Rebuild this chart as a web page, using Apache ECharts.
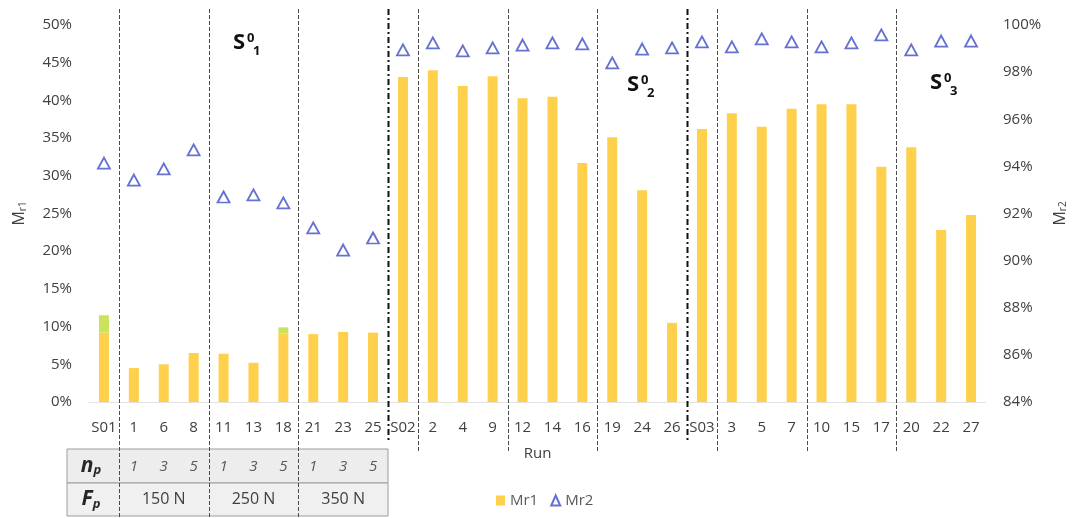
<!DOCTYPE html>
<html>
<head>
<meta charset="utf-8">
<script src="https://cdn.jsdelivr.net/npm/echarts@6/dist/echarts.min.js"></script>
<style>
html,body{margin:0;padding:0;background:#fff;}
#c{width:1074px;height:518px;}
</style>
</head>
<body>
<div id="c"></div>
<script>
// ---- data ----
const categories = ['S01','1','6','8','11','13','18','21','23','25',
                    'S02','2','4','9','12','14','16','19','24','26',
                    'S03','3','5','7','10','15','17','20','22','27'];
// Mr1 (%) yellow part of the bars
const mr1 = [9.2,4.5,5.0,6.5,6.4,5.2,9.1,9.0,9.3,9.2,
             43.1,44.0,41.9,43.2,40.3,40.5,31.7,35.1,28.1,10.5,
             36.2,38.3,36.5,38.9,39.5,39.5,31.2,33.8,22.8,24.8];
// light green tips visible on top of two bars (%)
const mr1Tip = [2.3,null,null,null,null,null,0.8,null,null,null,
                null,null,null,null,null,null,null,null,null,null,
                null,null,null,null,null,null,null,null,null,null];
// Mr2 (%)
const mr2 = [94.14,93.42,93.89,94.70,92.70,92.79,92.45,91.39,90.45,90.96,
             98.94,99.24,98.90,99.03,99.15,99.24,99.20,98.39,98.98,99.03,
             99.28,99.07,99.41,99.28,99.07,99.24,99.58,98.94,99.32,99.32];
const npRow = ['1','3','5','1','3','5','1','3','5'];   // under categories 1..9
const fpRow = ['150 N','250 N','350 N'];               // under categories 2,5,8
const groupLabels = [['S','0','1'],['S','0','2'],['S','0','3']];

const FONT = '"Open Sans", "Noto Sans", sans-serif';
const chart = echarts.init(document.getElementById('c'));

const option = {
  animation: false,
  textStyle: {fontFamily: FONT},
  grid: {left: 89, right: 88, top: 25, bottom: 116, containLabel: false, outerBoundsMode: 'none'},
  legend: {
    data: [{name: 'Mr1', icon: 'rect'}, {name: 'Mr2', icon: 'triangle'}],
    left: 491, top: 488,
    itemWidth: 9, itemHeight: 10, itemGap: 12,
    textStyle: {fontSize: 15, color: '#595959', fontFamily: FONT}
  },
  xAxis: {
    type: 'category',
    data: categories,
    name: 'Run',
    nameLocation: 'middle',
    nameGap: 44,
    nameTextStyle: {fontSize: 15, color: '#404040', fontFamily: FONT},
    axisLine: {show: true, lineStyle: {color: '#e3e3e3'}},
    axisTick: {show: false},
    axisLabel: {fontSize: 15, color: '#404040', margin: 18, interval: 0, fontFamily: FONT},
    splitLine: {show: false}
  },
  yAxis: [{
    type: 'value', min: 0, max: 50, interval: 5,
    name: '{m|M}{s|r1}',
    nameLocation: 'middle', nameRotate: 90, nameGap: 61,
    nameTextStyle: {rich: {
      m: {fontSize: 16, color: '#404040', fontFamily: FONT},
      s: {fontSize: 10, color: '#404040', fontFamily: FONT, padding: [7, 0, 0, 0]}
    }},
    axisLabel: {formatter: '{value}%', fontSize: 15, color: '#404040', margin: 17, fontFamily: FONT},
    axisLine: {show: false}, axisTick: {show: false},
    splitLine: {show: false}
  }, {
    type: 'value', min: 84, max: 100, interval: 2,
    name: '{m|M}{s|r2}',
    nameLocation: 'middle', nameRotate: 90, nameGap: 64,
    nameTextStyle: {rich: {
      m: {fontSize: 16, color: '#404040', fontFamily: FONT},
      s: {fontSize: 10, color: '#404040', fontFamily: FONT, padding: [7, 0, 0, 0]}
    }},
    axisLabel: {formatter: '{value}%', fontSize: 15, color: '#404040', margin: 17, fontFamily: FONT},
    axisLine: {show: false}, axisTick: {show: false},
    splitLine: {show: false}
  }],
  series: [{
    name: 'Mr1', type: 'bar', yAxisIndex: 0, stack: 'm1',
    data: mr1, barWidth: 10,
    itemStyle: {color: '#FFD04C'}
  }, {
    name: 'Mr1 tip', type: 'bar', yAxisIndex: 0, stack: 'm1',
    data: mr1Tip, barWidth: 10,
    itemStyle: {color: '#C9E35A'}
  }, {
    name: 'Mr2', type: 'scatter', yAxisIndex: 1,
    data: mr2, symbol: 'triangle', symbolSize: [12, 11],
    itemStyle: {color: '#ffffff', borderColor: '#3F4DC4', borderWidth: 1.8}
  }]
};
chart.setOption(option);

// ---- overlays computed from the axes ----
function px(i) { return chart.convertToPixel({xAxisIndex: 0}, categories[i]); }
function bnd(after) { return (px(after) + px(after + 1)) / 2; }

const g = [];
const tTop = 449, tMid = 483, tBot = 516, tLeft = 67;
const tRight = bnd(9);
// table
g.push({type: 'rect', shape: {x: tLeft, y: tTop, width: tRight - tLeft, height: tMid - tTop},
        style: {fill: '#EDEDED', stroke: '#9C9C9C', lineWidth: 1}, z: 10});
g.push({type: 'rect', shape: {x: tLeft, y: tMid, width: tRight - tLeft, height: tBot - tMid},
        style: {fill: '#F0F0F0', stroke: '#9C9C9C', lineWidth: 1}, z: 10});
// headers
g.push({type: 'text', z: 12, style: {x: tLeft + 24, y: (tTop + tMid) / 2, text: '{a|n}{b|p}',
  textAlign: 'center', textVerticalAlign: 'middle',
  rich: {a: {fontSize: 21, fontWeight: 'bold', fontStyle: 'italic', fill: '#262626', fontFamily: FONT},
         b: {fontSize: 13, fontWeight: 'bold', fontStyle: 'italic', fill: '#262626', fontFamily: FONT, padding: [9, 0, 0, 0]}}}});
g.push({type: 'text', z: 12, style: {x: tLeft + 24, y: (tMid + tBot) / 2, text: '{a|F}{b|p}',
  textAlign: 'center', textVerticalAlign: 'middle',
  rich: {a: {fontSize: 21, fontWeight: 'bold', fontStyle: 'italic', fill: '#262626', fontFamily: FONT},
         b: {fontSize: 13, fontWeight: 'bold', fontStyle: 'italic', fill: '#262626', fontFamily: FONT, padding: [9, 0, 0, 0]}}}});
npRow.forEach((t, k) => {
  g.push({type: 'text', z: 12, style: {x: px(k + 1), y: (tTop + tMid) / 2 + 1, text: t,
    textAlign: 'center', textVerticalAlign: 'middle',
    font: 'italic 15px ' + FONT, fill: '#595959'}});
});
fpRow.forEach((t, k) => {
  g.push({type: 'text', z: 12, style: {x: px(2 + 3 * k), y: (tMid + tBot) / 2, text: t,
    textAlign: 'center', textVerticalAlign: 'middle',
    font: '16px ' + FONT, fill: '#404040'}});
});
// vertical separators
const seps = [
  {after: 0, kind: 'table'}, {after: 3, kind: 'table'}, {after: 6, kind: 'table'},
  {after: 9, kind: 'major'},
  {after: 10, kind: 'minor'}, {after: 13, kind: 'minor'}, {after: 16, kind: 'minor'},
  {after: 19, kind: 'major'},
  {after: 20, kind: 'minor'}, {after: 23, kind: 'minor'}, {after: 26, kind: 'minor'}
];
seps.forEach(s => {
  const x = Math.round(bnd(s.after)) + 0.5;
  let y2 = 452, st = {stroke: '#4a4a4a', lineWidth: 1, lineDash: [4, 2]};
  if (s.kind === 'table') y2 = 518;
  if (s.kind === 'major') { y2 = 443; st = {stroke: '#111', lineWidth: 2, lineDash: [6, 3, 2, 3]}; }
  g.push({type: 'line', z: 15, shape: {x1: x, y1: 9, x2: x, y2: y2}, style: st});
});
// group labels S^0_k
const gl = [{x: 233, y: 43}, {x: 627, y: 85}, {x: 930, y: 83}];
groupLabels.forEach((lab, k) => {
  const p = gl[k];
  g.push({type: 'text', z: 20, style: {x: p.x, y: p.y, text: lab[0], textAlign: 'left', textVerticalAlign: 'middle',
    font: 'bold 22px ' + FONT, fill: '#111'}});
  g.push({type: 'text', z: 20, style: {x: p.x + 14, y: p.y - 5, text: lab[1], textAlign: 'left', textVerticalAlign: 'middle',
    font: 'bold 13px ' + FONT, fill: '#111'}});
  g.push({type: 'text', z: 20, style: {x: p.x + 20, y: p.y + 8, text: lab[2], textAlign: 'left', textVerticalAlign: 'middle',
    font: 'bold 13px ' + FONT, fill: '#111'}});
});

chart.setOption({graphic: g});
</script>
</body>
</html>
